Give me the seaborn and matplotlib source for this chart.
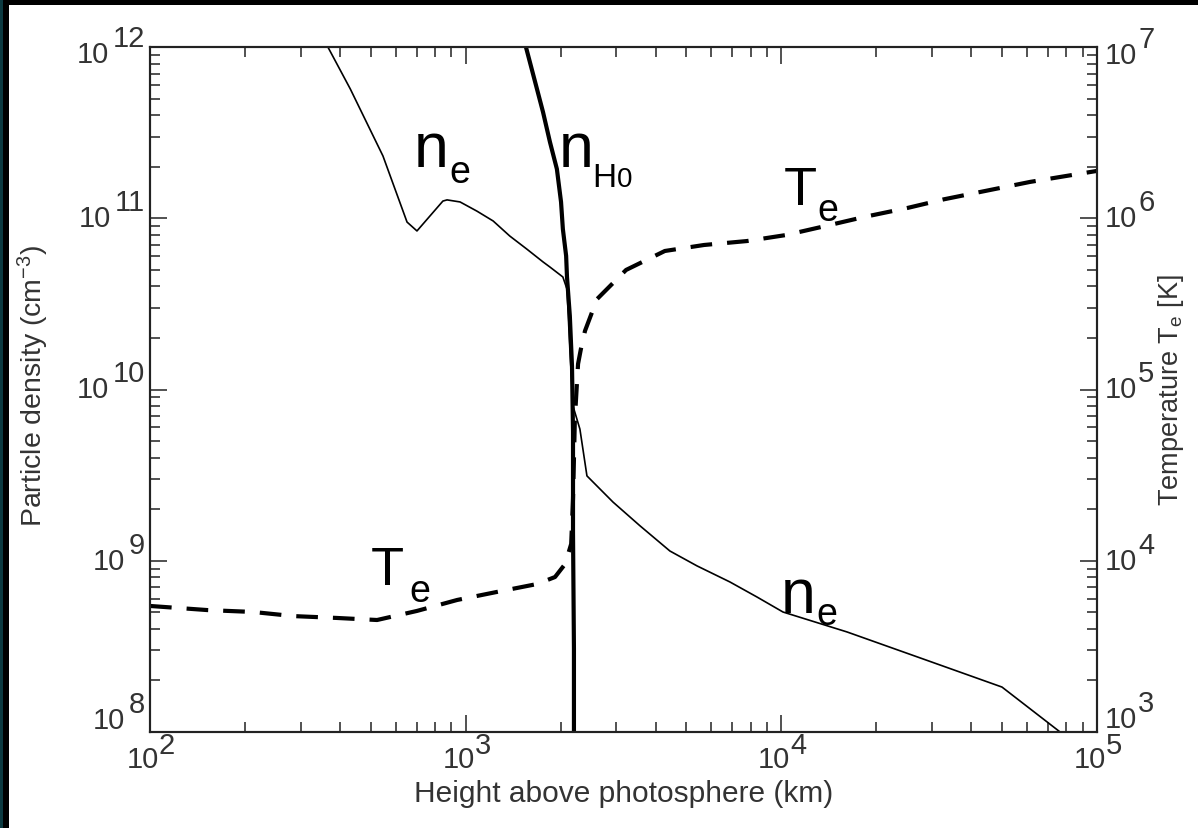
import numpy as np
import matplotlib
matplotlib.use("Agg")
import matplotlib.pyplot as plt
import matplotlib.transforms as mtransforms
from matplotlib.patches import Rectangle
from matplotlib.ticker import LogLocator, NullFormatter
import seaborn as sns

# ---- electron density n_e (cm^-3) against height above photosphere (km)
ne_height = [366, 431, 547, 652, 701, 847, 873, 960, 1086, 1222, 1380, 1563, 1758,
             1849, 2032, 2094, 2138, 2188, 2301, 2422, 2666, 2930, 3566, 4436,
             5407, 6871, 8375, 10120, 16140, 28120, 50000, 76400]
ne_density = [1.0e12, 5.69e11, 2.31e11, 9.5e10, 8.43e10, 1.26e11, 1.28e11, 1.245e11,
              1.10e11, 9.64e10, 7.87e10, 6.6e10, 5.56e10, 5.19e10, 4.54e10, 3.86e10,
              1.72e10, 8.0e9, 5.87e9, 3.13e9, 2.62e9, 2.20e9, 1.60e9, 1.14e9,
              9.33e8, 7.52e8, 6.14e8, 5.02e8, 3.84e8, 2.67e8, 1.83e8, 1.0e8]

# ---- neutral hydrogen density n_H0 (cm^-3)
nh_height = [1552, 1682, 1758, 1849, 1945, 2005, 2032, 2081, 2094, 2138, 2172,
             2188, 2188, 2203, 2203]
nh_density = [1.0e12, 5.69e11, 4.17e11, 2.79e11, 1.94e11, 1.245e11, 8.65e10,
              6.03e10, 4.54e10, 2.69e10, 1.37e10, 5.65e9, 1.47e9, 3.06e8, 1.0e8]

# ---- electron temperature T_e (K)
te_height = [100, 152, 212, 284, 391, 524, 701, 940, 1257, 1682, 1919, 2066, 2159,
             2188, 2218, 2270, 2317, 2388, 2606, 3222, 4276, 5689, 7780, 10350,
             13840, 18410, 25180, 32730, 61380, 100000]
te_temp = [5445, 5152, 5023, 4753, 4634, 4508, 5093, 5902, 6577, 7311, 8035, 9572,
           12530, 22960, 67300, 1.41e5, 1.72e5, 2.20e5, 3.37e5, 4.99e5, 6.44e5,
           6.98e5, 7.36e5, 7.98e5, 9.02e5, 1.02e6, 1.15e6, 1.29e6, 1.63e6, 1.89e6]

x_exponents = [2, 3, 4, 5]
left_exponents = [8, 9, 10, 11, 12]
right_exponents = [3, 4, 5, 6, 7]

sns.set_theme(style="white")
plt.rcParams["font.family"] = ["Liberation Sans", "DejaVu Sans"]
plt.rcParams["mathtext.fontset"] = "custom"
plt.rcParams["mathtext.rm"] = "Liberation Sans"
plt.rcParams["mathtext.it"] = "Liberation Sans:italic"
plt.rcParams["mathtext.bf"] = "Liberation Sans:bold"

INK = "#222222"
TXT = "#333333"
FS = 21

fig = plt.figure(figsize=(11.98, 8.29), dpi=100)
fig.patch.set_facecolor("white")
ax = fig.add_axes([150 / 1198, 1 - 733 / 829, 947 / 1198, 685 / 829])
ax.set_facecolor("white")

sns.lineplot(x=ne_height, y=ne_density, ax=ax, sort=False, estimator=None,
             color="black", linewidth=1.2)
sns.lineplot(x=nh_height, y=nh_density, ax=ax, sort=False, estimator=None,
             color="black", linewidth=3.0)
ax.set_xscale("log")
ax.set_yscale("log")
ax.set_xlim(1e2, 1e5)
ax.set_ylim(1e8, 1e12)

ax2 = ax.twinx()
sns.lineplot(x=te_height, y=te_temp, ax=ax2, sort=False, estimator=None,
             color="black", linewidth=3.0, linestyle=(0, (5.2, 3.6)))
ax2.set_yscale("log")
ax2.set_ylim(1e3, 1e7)
ax2.set_xlim(1e2, 1e5)

for a in (ax, ax2):
    for s in a.spines.values():
        s.set_linewidth(1.5)
        s.set_color(INK)
    a.set_xlabel("")
    a.set_ylabel("")

for axis in (ax.xaxis, ax.yaxis, ax2.yaxis):
    axis.set_major_locator(LogLocator(base=10))
    axis.set_minor_locator(LogLocator(base=10, subs=np.arange(2, 10), numticks=20))
    axis.set_minor_formatter(NullFormatter())

ax.tick_params(axis="x", which="both", direction="in", top=True, bottom=True,
               labelbottom=False, labeltop=False, color=INK, width=1.1)
ax.tick_params(axis="y", which="both", direction="in", left=True, right=False,
               labelleft=False, labelright=False, color=INK, width=1.1)
ax2.tick_params(axis="y", which="both", direction="in", left=False, right=True,
                labelleft=False, labelright=False, color=INK, width=1.1)
for a in (ax, ax2):
    a.tick_params(which="major", length=12)
    a.tick_params(which="minor", length=7)

# ---- power-of-ten tick labels with full-size exponents
tr_left = mtransforms.blended_transform_factory(ax.transAxes, ax.transData)
tr_right = mtransforms.blended_transform_factory(ax2.transAxes, ax2.transData)
tr_bottom = mtransforms.blended_transform_factory(ax.transData, ax.transAxes)
lab = dict(fontsize=FS, color=TXT, textcoords="offset pixels")

for e in left_exponents:
    shift = {12: -7, 8: 12}.get(e, 0)
    ex = ax.annotate(str(e), xy=(0, 10.0 ** e), xycoords=tr_left,
                     xytext=(-5, 16 + shift), ha="right", va="center", **lab)
    ax.annotate("10", xy=(0, 0.5), xycoords=ex, xytext=(-4, -16),
                ha="right", va="center", **lab)

for e in right_exponents:
    shift = {7: -8, 3: 13}.get(e, 0)
    base = ax2.annotate("10", xy=(1, 10.0 ** e), xycoords=tr_right,
                        xytext=(8, shift), ha="left", va="center", **lab)
    ax2.annotate(str(e), xy=(1, 0.5), xycoords=base, xytext=(1, 16),
                 ha="left", va="center", **lab)

for e in x_exponents:
    base = ax.annotate("10", xy=(10.0 ** e, 0), xycoords=tr_bottom,
                       xytext=(9, -27), ha="right", va="center", **lab)
    ax.annotate(str(e), xy=(1, 0.5), xycoords=base, xytext=(0, 14),
                ha="left", va="center", **lab)

# ---- axis titles
ax.set_xlabel("Height above photosphere (km)", fontsize=21.5, color=TXT)
ax.xaxis.set_label_coords(0.5, -0.068)
ax.set_ylabel("Particle density (cm$^{-3}$)", fontsize=20.5, color=TXT)
ax.yaxis.set_label_coords(-0.1045, 0.507)
ax2.set_ylabel(r"Temperature T$_{\mathrm{e}}$ [K]", fontsize=19.5, color=TXT)
ax2.yaxis.set_label_coords(1.062, 0.50)

# ---- curve labels
def put(s, fx, fy, size):
    ax2.text(fx, fy, s, transform=ax2.transAxes, fontsize=size, color="black",
             ha="left", va="baseline")

put("n", 0.2788, 0.8263, 45)
put("e", 0.3157, 0.8029, 27)
put("n", 0.4319, 0.8263, 45)
put("H", 0.4667, 0.7971, 24)
put("0", 0.4925, 0.7971, 20)
put("n", 0.6663, 0.1752, 45)
put("e", 0.7036, 0.1577, 27)
put("T", 0.6695, 0.7708, 39)
put("e", 0.7043, 0.7474, 27)
put("T", 0.2334, 0.2161, 39)
put("e", 0.2735, 0.1912, 27)

# ---- dark frame along the left and top edges
fig.add_artist(Rectangle((0, 0), 9 / 1198, 1, transform=fig.transFigure,
                         facecolor="black", edgecolor="none", zorder=10))
fig.add_artist(Rectangle((0, 0), 3 / 1198, 1, transform=fig.transFigure,
                         facecolor="#0c3a41", edgecolor="none", zorder=11))
fig.add_artist(Rectangle((0, 1 - 6 / 829), 1, 6 / 829, transform=fig.transFigure,
                         facecolor="black", edgecolor="none", zorder=10))

fig.savefig("out.png", dpi=100, facecolor="white")
